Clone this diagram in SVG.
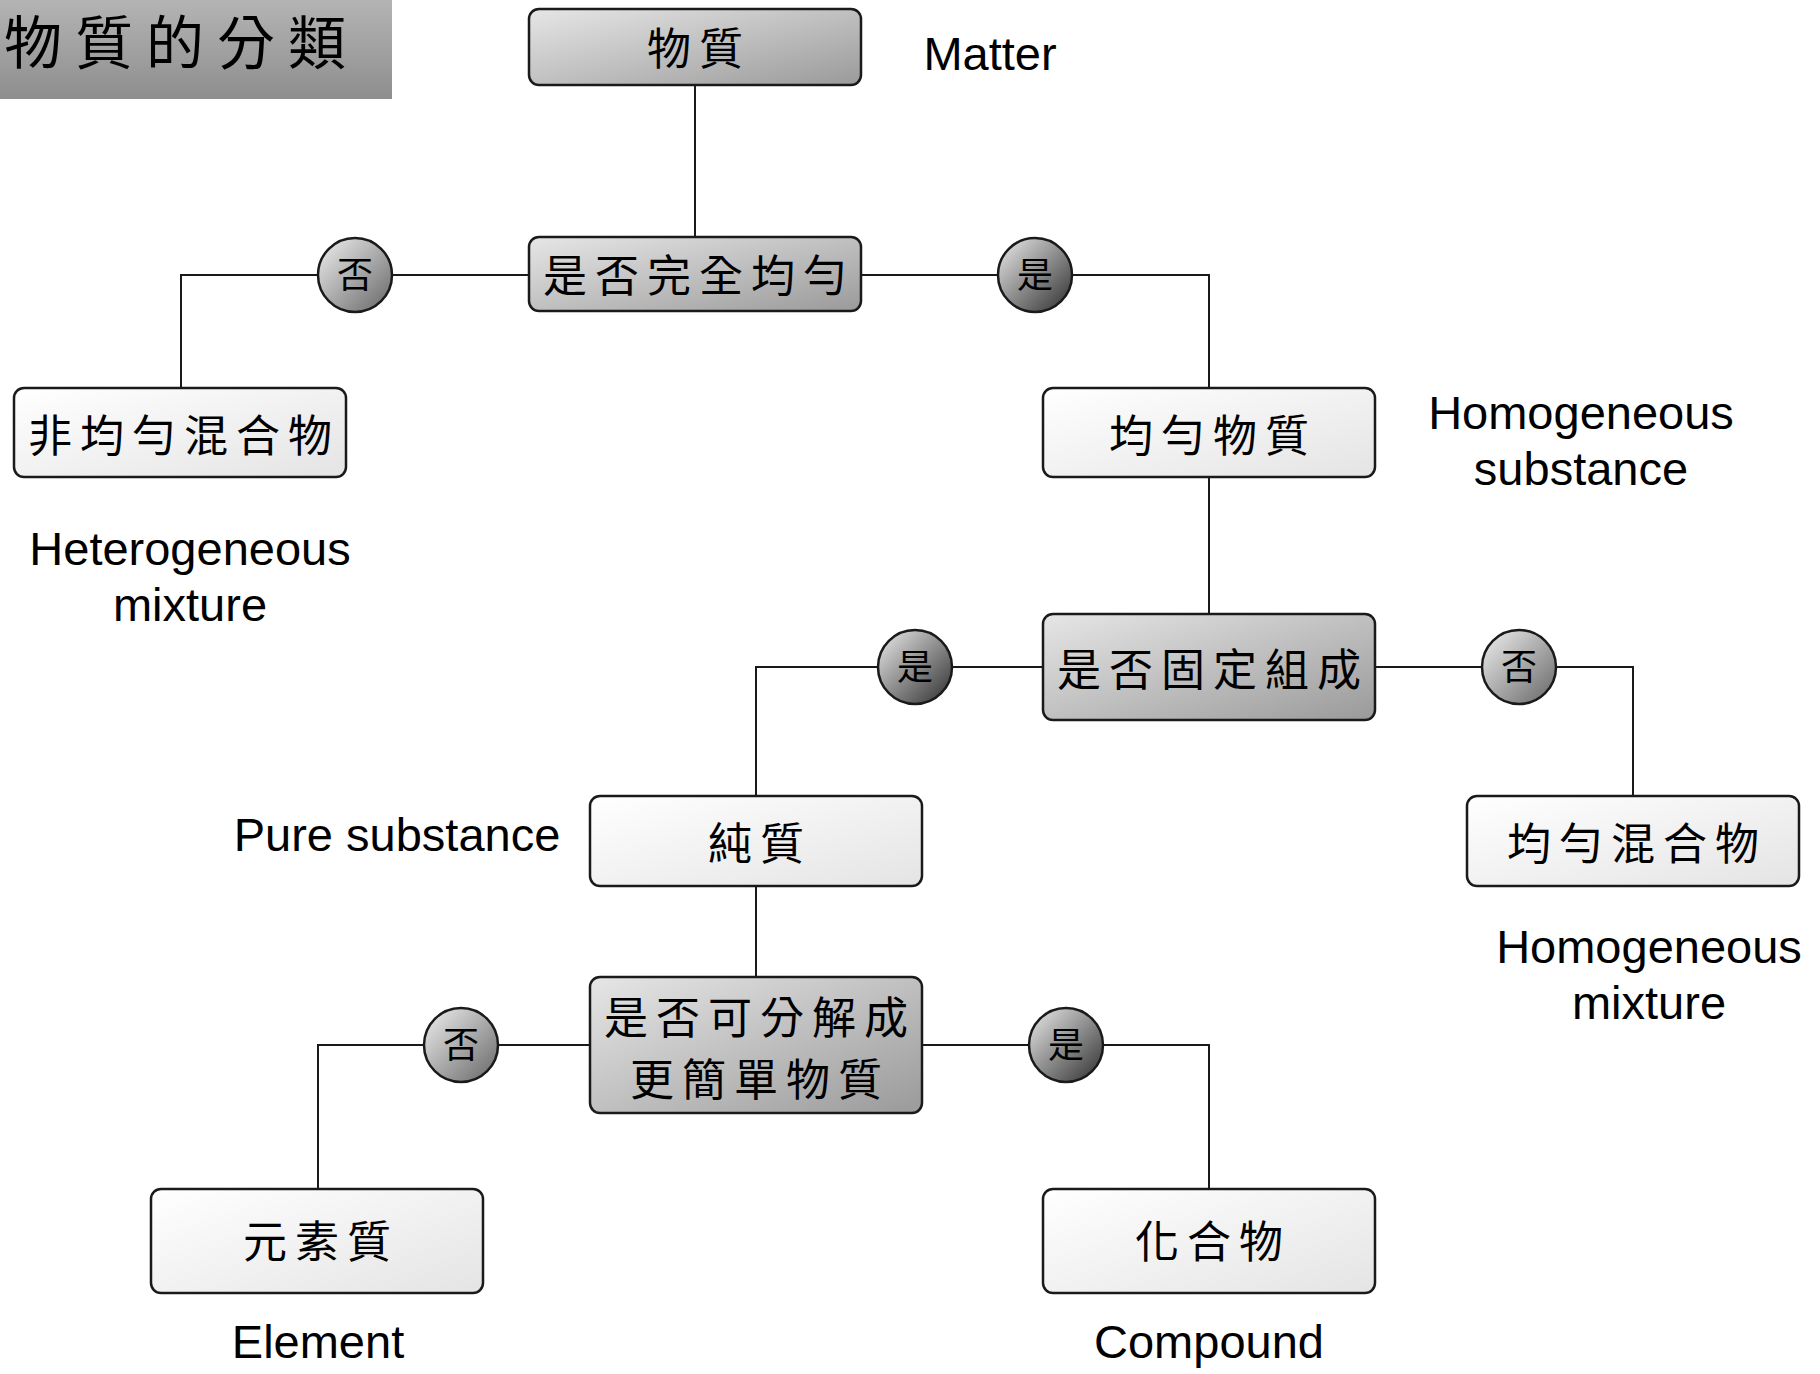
<svg xmlns="http://www.w3.org/2000/svg" width="1820" height="1374" viewBox="0 0 1820 1374">
<defs>
<linearGradient id="gTitle" x1="0" y1="0" x2="0" y2="1">
<stop offset="0" stop-color="#b4b4b4"/><stop offset="1" stop-color="#8e8e8e"/>
</linearGradient>
<linearGradient id="gDark" x1="0" y1="0" x2="1" y2="1">
<stop offset="0" stop-color="#e6e6e6"/><stop offset="1" stop-color="#9a9a9a"/>
</linearGradient>
<linearGradient id="gLight" x1="0" y1="0" x2="1" y2="1">
<stop offset="0" stop-color="#ffffff"/><stop offset="1" stop-color="#e4e4e4"/>
</linearGradient>
<linearGradient id="gNo" x1="0.15" y1="0.15" x2="0.85" y2="0.85">
<stop offset="0" stop-color="#dcdcdc"/><stop offset="1" stop-color="#7a7a7a"/>
</linearGradient>
<linearGradient id="gYes" x1="0.15" y1="0.15" x2="0.85" y2="0.85">
<stop offset="0" stop-color="#d0d0d0"/><stop offset="1" stop-color="#4a4a4a"/>
</linearGradient>
</defs>
<style>
.box{stroke:#1a1a1a;stroke-width:2.5}
.dark{fill:url(#gDark)}
.light{fill:url(#gLight)}
.circ{stroke:#1a1a1a;stroke-width:2.5}
.cjk{font-family:"Noto Sans CJK TC","Noto Sans CJK SC",sans-serif;fill:#000;text-anchor:middle}
.nt{font-size:44px;letter-spacing:8px}
.ct{font-size:36px}
.en{font-family:"Liberation Sans",Arial,sans-serif;font-size:47px;fill:#000;text-anchor:middle}
.ln{stroke:#1a1a1a;stroke-width:2;fill:none}
</style>

<g id="title">
<rect x="0" y="0" width="392" height="99" fill="url(#gTitle)"/>
<text x="4" y="64" class="cjk" style="text-anchor:start;font-size:58px;letter-spacing:13px">物質的分類</text>
</g>

<g id="connectors">
<line class="ln" x1="695" y1="85" x2="695" y2="237"/>
<polyline class="ln" points="529,275 181,275 181,388"/>
<polyline class="ln" points="861,275 1209,275 1209,388"/>
<line class="ln" x1="1209" y1="477" x2="1209" y2="614"/>
<polyline class="ln" points="1043,667 756,667 756,796"/>
<polyline class="ln" points="1375,667 1633,667 1633,796"/>
<line class="ln" x1="756" y1="886" x2="756" y2="977"/>
<polyline class="ln" points="590,1045 318,1045 318,1189"/>
<polyline class="ln" points="922,1045 1209,1045 1209,1189"/>
</g>

<g id="matter">
<rect class="box dark" x="529" y="9" width="332" height="76" rx="10"/>
<text class="cjk nt" x="699" y="65">物質</text>
<text class="en" x="990" y="70">Matter</text>
</g>

<g id="q-uniform">
<rect class="box dark" x="529" y="237" width="332" height="74" rx="10"/>
<text class="cjk nt" x="699" y="292">是否完全均勻</text>
</g>

<g id="c-no1">
<circle class="circ" cx="355" cy="275" r="37" fill="url(#gNo)"/>
<text class="cjk ct" x="355" y="288">否</text>
</g>
<g id="c-yes1">
<circle class="circ" cx="1035" cy="275" r="37" fill="url(#gYes)"/>
<text class="cjk ct" x="1035" y="288">是</text>
</g>

<g id="heterogeneous">
<rect class="box light" x="14" y="388" width="332" height="89" rx="10"/>
<text class="cjk nt" x="184" y="452">非均勻混合物</text>
<text class="en" x="190" y="565">Heterogeneous</text>
<text class="en" x="190" y="621">mixture</text>
</g>

<g id="homogeneous-substance">
<rect class="box light" x="1043" y="388" width="332" height="89" rx="10"/>
<text class="cjk nt" x="1213" y="452">均勻物質</text>
<text class="en" x="1581" y="429">Homogeneous</text>
<text class="en" x="1581" y="485">substance</text>
</g>

<g id="q-fixed">
<rect class="box dark" x="1043" y="614" width="332" height="106" rx="10"/>
<text class="cjk nt" x="1213" y="686">是否固定組成</text>
</g>

<g id="c-yes2">
<circle class="circ" cx="915" cy="667" r="37" fill="url(#gYes)"/>
<text class="cjk ct" x="915" y="680">是</text>
</g>
<g id="c-no2">
<circle class="circ" cx="1519" cy="667" r="37" fill="url(#gNo)"/>
<text class="cjk ct" x="1519" y="680">否</text>
</g>

<g id="pure">
<rect class="box light" x="590" y="796" width="332" height="90" rx="10"/>
<text class="cjk nt" x="760" y="860">純質</text>
<text class="en" x="397" y="851">Pure substance</text>
</g>

<g id="homogeneous-mixture">
<rect class="box light" x="1467" y="796" width="332" height="90" rx="10"/>
<text class="cjk nt" x="1637" y="860">均勻混合物</text>
<text class="en" x="1649" y="963">Homogeneous</text>
<text class="en" x="1649" y="1019">mixture</text>
</g>

<g id="q-decompose">
<rect class="box dark" x="590" y="977" width="332" height="136" rx="10"/>
<text class="cjk nt" x="760" y="1034">是否可分解成</text>
<text class="cjk nt" x="760" y="1096">更簡單物質</text>
</g>

<g id="c-no3">
<circle class="circ" cx="461" cy="1045" r="37" fill="url(#gNo)"/>
<text class="cjk ct" x="461" y="1058">否</text>
</g>
<g id="c-yes3">
<circle class="circ" cx="1066" cy="1045" r="37" fill="url(#gYes)"/>
<text class="cjk ct" x="1066" y="1058">是</text>
</g>

<g id="element">
<rect class="box light" x="151" y="1189" width="332" height="104" rx="10"/>
<text class="cjk nt" x="321" y="1258">元素質</text>
<text class="en" x="318" y="1358">Element</text>
</g>

<g id="compound">
<rect class="box light" x="1043" y="1189" width="332" height="104" rx="10"/>
<text class="cjk nt" x="1213" y="1258">化合物</text>
<text class="en" x="1209" y="1358">Compound</text>
</g>
</svg>
